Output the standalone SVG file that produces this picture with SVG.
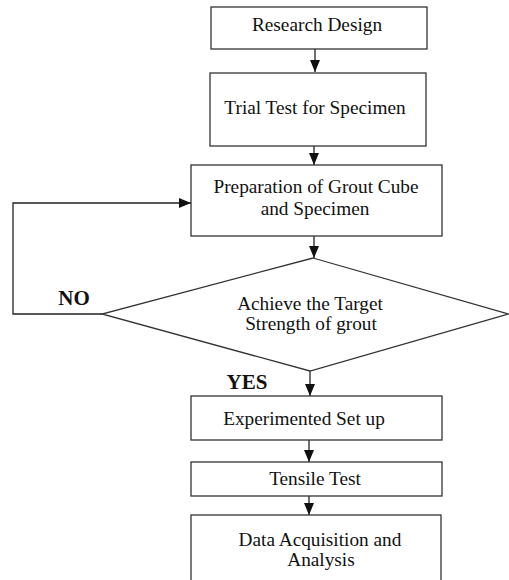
<svg xmlns="http://www.w3.org/2000/svg" width="509" height="580" viewBox="0 0 509 580" font-family="Liberation Serif, Times New Roman, serif">
<style>
.box{fill:#fff;stroke:#333;stroke-width:1.3}
.t{font-size:19.3px;fill:#111;text-anchor:middle}
.b{font-size:21px;font-weight:bold;fill:#111;text-anchor:middle}
.c{fill:none;stroke:#222;stroke-width:1.3}
</style>
<defs>
<marker id="ah" viewBox="0 0 12 10" refX="12" refY="5" markerWidth="12" markerHeight="10" markerUnits="userSpaceOnUse" orient="auto">
<path d="M0,0 L12,5 L0,10 z" fill="#111"/>
</marker>
</defs>
<rect width="509" height="580" fill="#fff"/>
<g id="connectors">
<line class="c" x1="315" y1="49" x2="315" y2="72" marker-end="url(#ah)"/>
<line class="c" x1="314" y1="146" x2="314" y2="165" marker-end="url(#ah)"/>
<line class="c" x1="314" y1="236" x2="314" y2="258" marker-end="url(#ah)"/>
<line class="c" x1="310" y1="371" x2="310" y2="396" marker-end="url(#ah)"/>
<line class="c" x1="309" y1="440" x2="309" y2="462" marker-end="url(#ah)"/>
<line class="c" x1="309" y1="496" x2="309" y2="515" marker-end="url(#ah)"/>
<polyline class="c" points="102,314 13,314 13,203 191,203" marker-end="url(#ah)"/>
<text class="b" x="74" y="305" font-family="Liberation Serif">NO</text>
<text class="b" x="247" y="389" font-family="Liberation Serif">YES</text>
</g>
<g id="research-design" font-family="Liberation Serif">
<rect class="box" x="211" y="7" width="216" height="42"/>
<text class="t" x="317" y="31">Research Design</text>
</g>
<g id="trial-test" font-family="Liberation Serif">
<rect class="box" x="210" y="73" width="216" height="73"/>
<text class="t" x="315" y="114">Trial Test for Specimen</text>
</g>
<g id="preparation" font-family="Liberation Serif">
<rect class="box" x="191" y="165" width="251" height="71"/>
<text class="t" x="316" y="193">Preparation of Grout Cube</text>
<text class="t" x="315" y="215">and Specimen</text>
</g>
<g id="decision" font-family="Liberation Serif">
<polygon class="box" points="313,258 508,314 310,371 102,314"/>
<text class="t" x="310" y="310">Achieve the Target</text>
<text class="t" x="311" y="330">Strength of grout</text>
</g>
<g id="experimented" font-family="Liberation Serif">
<rect class="box" x="191" y="396" width="251" height="44"/>
<text class="t" x="304" y="425">Experimented Set up</text>
</g>
<g id="tensile" font-family="Liberation Serif">
<rect class="box" x="191" y="462" width="251" height="34"/>
<text class="t" x="315" y="485">Tensile Test</text>
</g>
<g id="data" font-family="Liberation Serif">
<rect class="box" x="191" y="515" width="250" height="75"/>
<text class="t" x="320" y="546">Data Acquisition and</text>
<text class="t" x="321" y="566">Analysis</text>
</g>
</svg>
